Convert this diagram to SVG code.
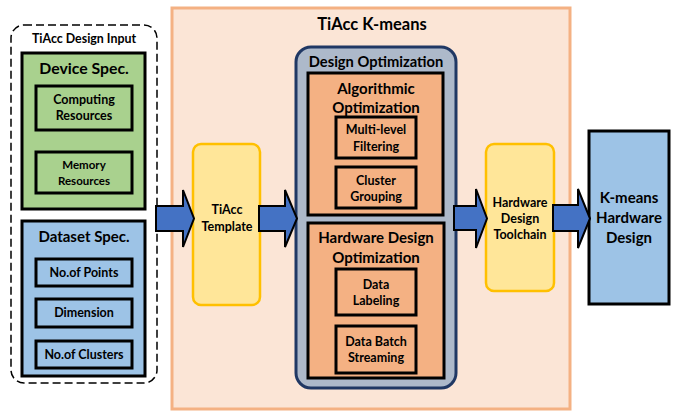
<svg xmlns="http://www.w3.org/2000/svg" width="678" height="412" viewBox="0 0 678 412">
<style>
text{font-family:Lato,"Liberation Sans",sans-serif;font-weight:bold;fill:#000;text-anchor:middle}
.box{stroke:#000;stroke-width:3}
.green{fill:#A9D18E}
.blue{fill:#9DC3E6}
.orange{fill:#F4B183}
.yellow{fill:#FFE699;stroke:#FFC000;stroke-width:2.5}
.arrow{fill:#4472C4;stroke:#000;stroke-width:2;stroke-linejoin:miter}
.t11{font-size:12.5px}
.t15{font-size:15px}
</style>
<rect width="678" height="412" fill="#fff"/>
<g id="kmeans">
<rect x="172" y="8" width="398" height="401" fill="#FBE5D6" stroke="#F4B183" stroke-width="3"/>
<text x="372" y="30" font-size="16.5">TiAcc K-means</text>
</g>
<g id="design-input">
<rect x="11" y="25" width="146" height="358" rx="13" fill="#fff" stroke="#000" stroke-width="1.5" stroke-dasharray="8,4"/>
<text x="84" y="43" font-size="12.4">TiAcc Design Input</text>
</g>
<g id="device-spec">
<rect x="22" y="53" width="123" height="156" class="box green"/>
<text x="84" y="74" font-size="15.8">Device Spec.</text>
</g>
<g id="computing">
<rect x="36" y="86" width="96" height="44" class="box green"/>
<text x="84" y="104" class="t11">Computing</text>
<text x="84" y="120" class="t11">Resources</text>
</g>
<g id="memory">
<rect x="36" y="152" width="96" height="41" class="box green"/>
<text x="84" y="169" font-size="11.5">Memory</text>
<text x="84" y="185" font-size="11.5">Resources</text>
</g>
<g id="dataset-spec">
<rect x="22" y="221" width="123" height="155" class="box blue"/>
<text x="84" y="242" class="t15">Dataset Spec.</text>
</g>
<g id="points">
<rect x="36" y="259" width="96" height="27" class="box blue"/>
<text x="84" y="277" class="t11">No.of Points</text>
</g>
<g id="dimension">
<rect x="36" y="299" width="96" height="28" class="box blue"/>
<text x="84" y="317" class="t11">Dimension</text>
</g>
<g id="clusters">
<rect x="36" y="341" width="96" height="27" class="box blue"/>
<text x="84" y="359" class="t11">No.of Clusters</text>
</g>
<g id="template">
<rect x="193" y="144" width="67" height="161" rx="8" class="yellow"/>
<text x="227" y="214" class="t11">TiAcc</text>
<text x="227" y="231" class="t11">Template</text>
</g>
<g id="design-opt">
<rect x="296" y="47" width="160" height="341" rx="15" fill="#ADB9CA" stroke="#203864" stroke-width="3"/>
<text x="376" y="67" font-size="14.7">Design Optimization</text>
</g>
<g id="algo-opt">
<rect x="308" y="73" width="135" height="142" class="box orange"/>
<text x="376" y="94" class="t15">Algorithmic</text>
<text x="376" y="113" class="t15">Optimization</text>
</g>
<g id="filtering">
<rect x="336" y="117" width="80" height="41" class="box orange"/>
<text x="376" y="134" class="t11">Multi-level</text>
<text x="376" y="151" class="t11">Filtering</text>
</g>
<g id="grouping">
<rect x="336" y="167" width="80" height="41" class="box orange"/>
<text x="376" y="185" class="t11">Cluster</text>
<text x="376" y="201" class="t11">Grouping</text>
</g>
<g id="hw-opt">
<rect x="308" y="223" width="136" height="155" class="box orange"/>
<text x="376" y="243" class="t15">Hardware Design</text>
<text x="376" y="263" class="t15">Optimization</text>
</g>
<g id="labeling">
<rect x="336" y="269" width="80" height="46" class="box orange"/>
<text x="376" y="289" class="t11">Data</text>
<text x="376" y="305" class="t11">Labeling</text>
</g>
<g id="streaming">
<rect x="336" y="326" width="80" height="47" class="box orange"/>
<text x="376" y="346" class="t11">Data Batch</text>
<text x="376" y="362" class="t11">Streaming</text>
</g>
<g id="toolchain">
<rect x="486" y="144" width="68" height="147" rx="8" class="yellow"/>
<text x="520" y="207" class="t11">Hardware</text>
<text x="520" y="223" class="t11">Design</text>
<text x="520" y="239" class="t11">Toolchain</text>
</g>
<g id="kmeans-hw">
<rect x="589" y="131" width="80" height="173" class="box blue"/>
<text x="629" y="203" class="t15">K-means</text>
<text x="629" y="223" class="t15">Hardware</text>
<text x="629" y="243" class="t15">Design</text>
</g>
<g id="connectors">
<path class="arrow" d="M156,206 L183,206 L183,190 L194,218.5 L183,247 L183,231 L156,231 Z"/>
<path class="arrow" d="M259,206 L285,206 L285,190 L297,218.5 L285,247 L285,231 L259,231 Z"/>
<path class="arrow" d="M454,206 L476,206 L476,189 L487,218.5 L476,248 L476,230 L454,230 Z"/>
<path class="arrow" d="M553,205 L578,205 L578,189 L590,218.5 L578,248 L578,231 L553,231 Z"/>
</g>
</svg>
